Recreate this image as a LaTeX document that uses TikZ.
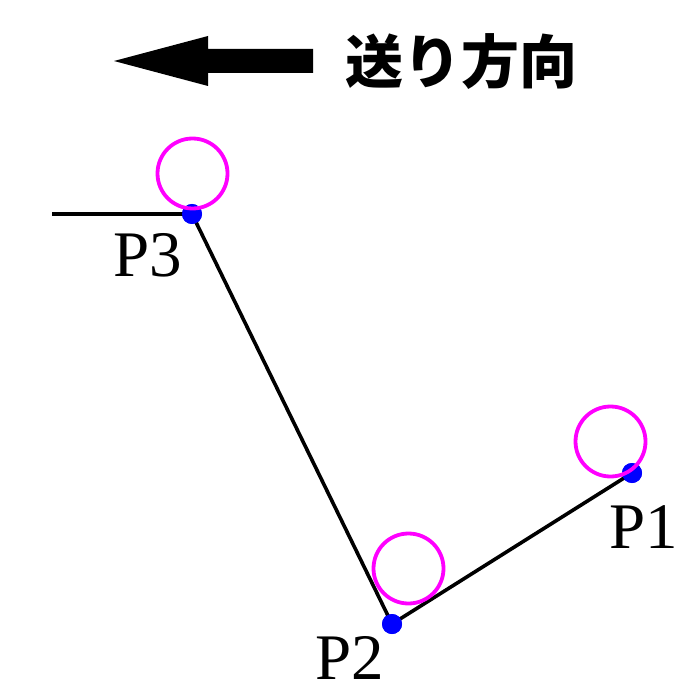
\documentclass[tikz,border=0pt]{standalone}
\usepackage{fontspec}
\setmainfont{Liberation Serif}
\newfontfamily\cjk{Noto Sans CJK JP}
\definecolor{ringmag}{RGB}{255,0,255}
\definecolor{dotblue}{RGB}{0,0,255}
\begin{document}
\begin{tikzpicture}[x=1pt,y=-1pt,
  wire/.style={line width=3.6pt,black},
  dotpt/.style={circle,fill=dotblue,inner sep=0pt,minimum size=20pt},
  ring/.style={draw=ringmag,line width=3.8pt},
  lbl/.style={font=\fontsize{65}{65}\selectfont,inner sep=0pt}]
\useasboundingbox (0,0) rectangle (700,700);
% direction arrow
\fill[black] (114,61) -- (208,36) -- (208,49) -- (313,49) -- (313,73) -- (208,73) -- (208,86) -- cycle;
\node[font=\cjk\fontsize{58}{58}\selectfont\bfseries,inner sep=0pt] (dir) at (461,62) {送り方向};
% points
\coordinate (s) at (52,214);
\node[dotpt] (p3) at (192,214) {};
\node[dotpt] (p2) at (392,624) {};
\node[dotpt] (p1) at (632,473) {};
\draw[wire] (s) -- (p3.center) -- (p2.center) -- (p1.center);
\foreach \n in {p3,p2,p1} \node[dotpt] at (\n) {};
% circles
\draw[ring] (192.5,173.5) circle (35);
\draw[ring] (408.5,568.5) circle (35);
\draw[ring] (610.5,441.5) circle (35);
% labels
\node[lbl] (l3) at (147.5,255) {P3};
\node[lbl] (l2) at (350,658) {P2};
\node[lbl] (l1) at (644,527) {P1};
\end{tikzpicture}
\end{document}
